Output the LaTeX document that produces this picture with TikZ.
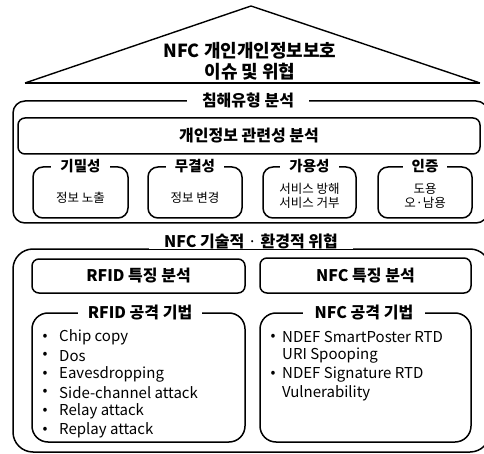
\documentclass[tikz,border=0pt]{standalone}
\usepackage{fontspec}
\setmainfont{Noto Sans CJK KR}
\begin{document}
\begin{tikzpicture}[x=1pt,y=-1pt,
  ln/.style={line width=1.5pt},
  panel/.style={draw, ln, rounded corners=#1, inner sep=0pt},
  ttl/.style={fill=white, inner xsep=15pt, inner ysep=0pt, font=\bfseries\fontsize{16}{18}\selectfont},
  sttl/.style={fill=white, inner xsep=9pt, inner ysep=0pt, font=\bfseries\fontsize{14.5}{16}\selectfont},
  boxtxt/.style={font=\bfseries\fontsize{16}{18}\selectfont},
  body/.style={align=center, font=\fontsize{12.5}{14.5}\selectfont},
  item/.style={anchor=west, inner sep=0pt, font=\fontsize{15}{17}\selectfont},
  bul/.style={inner sep=0pt, font=\fontsize{14.5}{16}\selectfont}
]
\useasboundingbox (0,0) rectangle (484,454);

% roof
\coordinate (apex) at (251,6);
\coordinate (eaveL) at (25,83);
\coordinate (eaveR) at (480,83);
\draw[line width=1.4pt, line join=round] (eaveL) -- (apex) -- (eaveR);
\draw[line width=2.2pt] (eaveL) -- (eaveR);
\node[align=center, font=\bfseries\fontsize{18}{21}\selectfont] (roofT) at (250,61)
  {NFC 개인개인정보보호\\이슈 및 위협};

% infringement analysis panel
\node[panel=12pt, minimum width=475pt, minimum height=122pt] (harm) at (250.5,162) {};
\node[ttl] (harmT) at (248,100) {침해유형 분석};
\node[panel=7pt, minimum width=462pt, minimum height=36pt, boxtxt] (rel) at (249,136) {개인정보 관련성 분석};

\node[panel=10pt, minimum width=95pt, minimum height=51pt] (conf) at (80.5,192.5) {};
\node[panel=10pt, minimum width=94pt, minimum height=51pt] (integ) at (195,192.5) {};
\node[panel=10pt, minimum width=93pt, minimum height=51pt] (avail) at (309.5,192.5) {};
\node[panel=10pt, minimum width=94pt, minimum height=51pt] (auth) at (425,192.5) {};
\node[sttl] (confT) at (conf.north) {기밀성};
\node[sttl] (integT) at (integ.north) {무결성};
\node[sttl] (availT) at (avail.north) {가용성};
\node[sttl] (authT) at (auth.north) {인증};
\node[body] (confB) at (80.5,198) {정보 노출};
\node[body] (integB) at (195,198) {정보 변경};
\node[body] (availB) at (309.5,196) {서비스 방해\\서비스 거부};
\node[body] (authB) at (425,196) {도용\\오·남용};

% technical and environmental threats panel
\node[panel=20pt, minimum width=477pt, minimum height=203pt] (tech) at (251.5,350.5) {};
\node[ttl] (techT) at (251,241) {NFC 기술적 {\mdseries·} 환경적 위협};

\node[panel=7pt, minimum width=213pt, minimum height=34pt, boxtxt] (rfidA) at (138.5,276) {RFID 특징 분석};
\node[panel=7pt, minimum width=211pt, minimum height=35pt, boxtxt] (nfcA) at (365.5,275.5) {NFC 특징 분석};

\node[panel=16pt, minimum width=213pt, minimum height=129pt] (rfidK) at (138.5,377.5) {};
\node[panel=16pt, minimum width=211pt, minimum height=129pt] (nfcK) at (365.5,377.5) {};
\node[ttl, inner xsep=10pt] (rfidKT) at (140,313) {RFID 공격 기법};
\node[ttl, inner xsep=12pt] (nfcKT) at (364,313) {NFC 공격 기법};

% RFID attack list
\foreach \t [count=\i] in {Chip copy, Dos, Eavesdropping, Side-channel attack, Relay attack, Replay attack} {
  \node[bul] (rb\i) at (45,318.4+18.6*\i) {•};
  \node[item] (ri\i) at (59,318.4+18.6*\i) {\t};
}

% NFC attack list
\node[bul] (nb1) at (273,337) {•};
\node[item] (ni1) at (282,337) {NDEF SmartPoster RTD};
\node[item] (ni2) at (282,355.6) {URI Spooping};
\node[bul] (nb2) at (273,374.2) {•};
\node[item] (ni3) at (282,374.2) {NDEF Signature RTD};
\node[item] (ni4) at (282,392.8) {Vulnerability};
\end{tikzpicture}
\end{document}
